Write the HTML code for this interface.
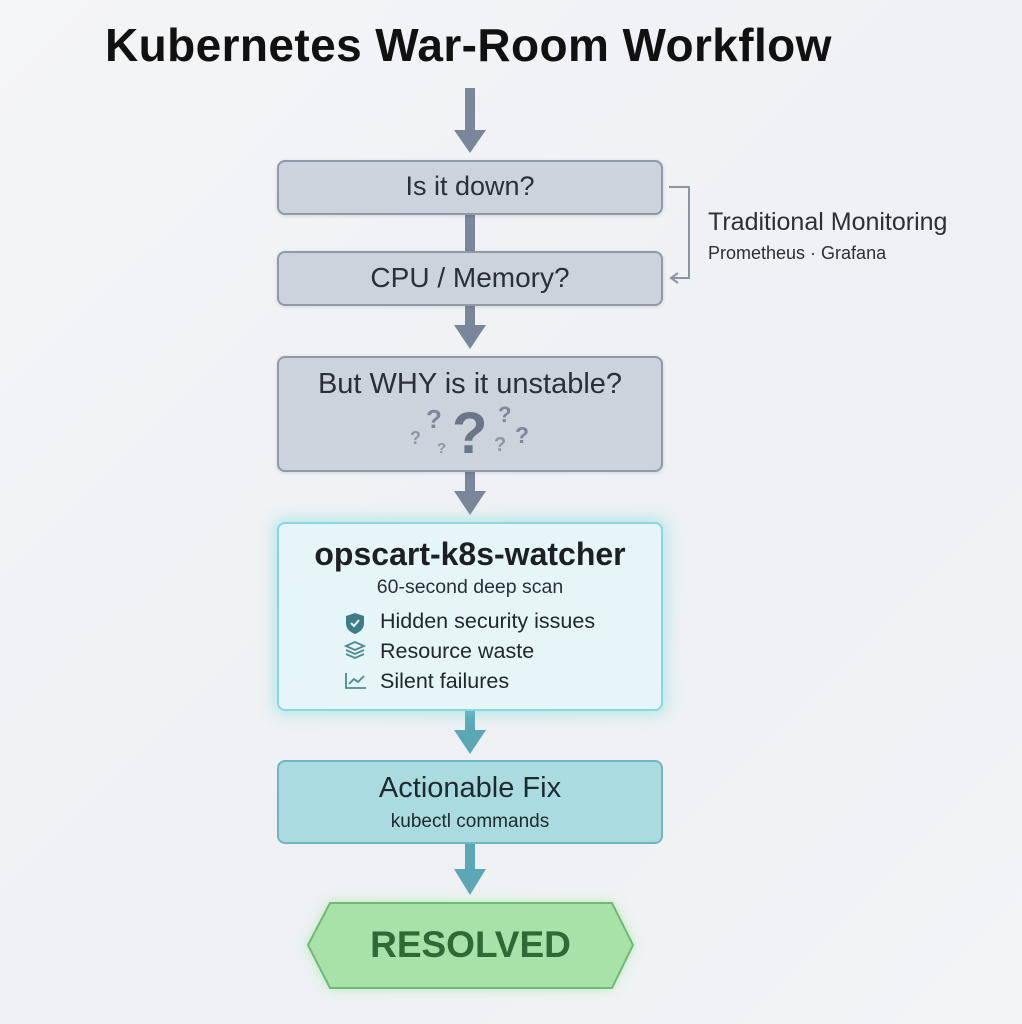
<!DOCTYPE html>
<html><head><meta charset="utf-8"><style>
body{margin:0;width:1022px;height:1024px;background:linear-gradient(135deg,#f4f5f7,#eef0f3 60%,#f3f4f6);font-family:"Liberation Sans",sans-serif;position:relative;overflow:hidden}
.t{position:absolute;white-space:nowrap}
.box{position:absolute;left:277px;width:386px;box-sizing:border-box;border-radius:8px}
.g{background:#cdd3dc;border:2px solid #8f99a9;box-shadow:0 1px 4px rgba(0,0,0,.12)}
.c{text-align:center;left:277px;width:386px;color:#2a2f38}
</style></head><body>
<div class="t" style="left:105px;top:18px;font-size:46px;font-weight:bold;color:#111;letter-spacing:0.4px">Kubernetes War-Room Workflow</div>

<svg width="1022" height="1024" style="position:absolute;left:0;top:0">
 <g fill="#7a869a">
  <rect x="465" y="88" width="10" height="44"/><polygon points="454,130 486,130 470,153"/>
  <rect x="465" y="214" width="10" height="38"/>
  <rect x="465" y="305" width="10" height="22"/><polygon points="454,325 486,325 470,349"/>
  <rect x="465" y="471" width="10" height="22"/><polygon points="454,491 486,491 470,515"/>
 </g>
 <g fill="#5ba7b6">
  <rect x="465" y="710" width="10" height="22"/><polygon points="454,730 486,730 470,754"/>
  <rect x="465" y="843" width="10" height="28"/><polygon points="454,869 486,869 470,895"/>
 </g>
 <path d="M669,187 H689 V278 H673" fill="none" stroke="#8a94a4" stroke-width="2"/>
 <polyline points="678,273 671,278 678,283" fill="none" stroke="#8a94a4" stroke-width="2"/>
 <defs><filter id="gl" x="-20%" y="-40%" width="140%" height="180%"><feGaussianBlur stdDeviation="6"/></filter></defs>
 <polygon points="330,903 612,903 633,945 612,988 330,988 308,945" fill="#a6e6a6" filter="url(#gl)" opacity="0.8"/>
 <polygon points="330,903 612,903 633,945 612,988 330,988 308,945" fill="#a8e2a8" stroke="#6dbb74" stroke-width="2"/>
</svg>

<div class="box g" style="top:160px;height:55px"></div>
<div class="t c" style="top:171px;font-size:27px">Is it down?</div>
<div class="box g" style="top:251px;height:55px"></div>
<div class="t c" style="top:262px;font-size:28px">CPU / Memory?</div>
<div class="t" style="left:708px;top:208px;font-size:25px;color:#2a2f38">Traditional Monitoring</div>
<div class="t" style="left:708px;top:243px;font-size:18px;color:#2a2f38">Prometheus · Grafana</div>

<div class="box g" style="top:356px;height:116px"></div>
<div class="t c" style="top:368px;font-size:29px">But WHY is it unstable?</div>
<div class="t" style="left:452px;top:400px;font-size:58px;font-weight:bold;color:#6b7688">?</div>
<div class="t" style="left:426px;top:404px;font-size:26px;font-weight:bold;color:#7d8797">?</div>
<div class="t" style="left:498px;top:402px;font-size:22px;font-weight:bold;color:#7d8797">?</div>
<div class="t" style="left:410px;top:428px;font-size:18px;font-weight:bold;color:#8d96a4">?</div>
<div class="t" style="left:437px;top:440px;font-size:15px;font-weight:bold;color:#8d96a4">?</div>
<div class="t" style="left:494px;top:434px;font-size:20px;font-weight:bold;color:#8d96a4">?</div>
<div class="t" style="left:515px;top:422px;font-size:23px;font-weight:bold;color:#7d8797">?</div>

<div class="box" style="top:522px;height:189px;background:#e5f5f8;border:2px solid #86d9df;box-shadow:0 0 14px 4px rgba(120,220,225,.45)"></div>
<div class="t c" style="top:536px;font-size:32px;font-weight:bold;color:#1c1f24">opscart-k8s-watcher</div>
<div class="t c" style="top:576px;font-size:19.5px;color:#2a2f38">60-second deep scan</div>
<svg style="position:absolute;left:344px;top:610px" width="26" height="85">
 <path d="M11,3 L20,6 V13 C20,19 16,22 11,24 C6,22 2,19 2,13 V6 Z" fill="#3f7d86"/>
 <polyline points="7,13 10,16 15,10" fill="none" stroke="#e5f5f8" stroke-width="2"/>
 <g fill="none" stroke="#4f8a92" stroke-width="1.8"><path d="M2,36 L11,32 L20,36 L11,40 Z"/><path d="M2,40 L11,44 L20,40"/><path d="M2,44 L11,48 L20,44"/></g>
 <g fill="none" stroke="#4f8a92" stroke-width="1.8"><path d="M2,63 V78 H22"/><polyline points="5,74 10,69 14,72 20,66"/></g>
</svg>
<div class="t" style="left:380px;top:609px;font-size:21.5px;color:#22262d">Hidden security issues</div>
<div class="t" style="left:380px;top:639px;font-size:21.5px;color:#22262d">Resource waste</div>
<div class="t" style="left:380px;top:669px;font-size:21.5px;color:#22262d">Silent failures</div>

<div class="box" style="top:760px;height:84px;background:#a9dbe1;border:2px solid #70b6c1"></div>
<div class="t c" style="top:772px;font-size:29px;color:#1f2a30">Actionable Fix</div>
<div class="t c" style="top:811px;font-size:19px;color:#1f2a30">kubectl commands</div>

<div class="t" style="left:308px;width:325px;text-align:center;top:924px;font-size:37px;font-weight:bold;color:#2f6a36">RESOLVED</div>
</body></html>
